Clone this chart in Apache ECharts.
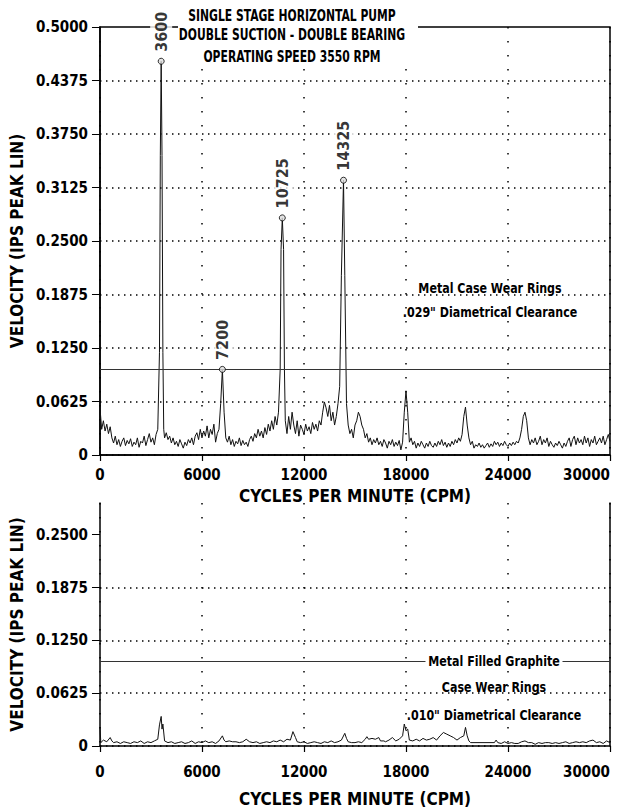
<!DOCTYPE html>
<html><head><meta charset="utf-8">
<script src="https://cdn.jsdelivr.net/npm/echarts@6.0.0/dist/echarts.min.js"></script>
<style>html,body{margin:0;padding:0;background:#fff}#c{width:618px;height:808px}</style>
</head><body><div id="c"></div>
<script>
const titleLines = ['SINGLE STAGE HORIZONTAL PUMP', 'DOUBLE SUCTION - DOUBLE BEARING', 'OPERATING SPEED 3550 RPM'];
const xTicks = [0, 6000, 12000, 18000, 24000, 30000];
const yTicksTop = [0, 0.0625, 0.125, 0.1875, 0.25, 0.3125, 0.375, 0.4375, 0.5];
const yTicksBottom = [0, 0.0625, 0.125, 0.1875, 0.25];
const alarmLevel = 0.1;
const topNotes = ['Metal Case Wear Rings', '.029" Diametrical Clearance'];
const bottomNotes = ['Metal Filled Graphite', 'Case Wear Rings', '.010" Diametrical Clearance'];
const peakCpm = [3600, 7200, 10725, 14325];
const peakVel = [0.46, 0.1, 0.277, 0.321];

const topSpectrum = [[0,0.055],[100,0.03],[200,0.04],[300,0.028],[400,0.036],[500,0.025],[600,0.033],[700,0.02],[800,0.014],[900,0.022],[1000,0.012],[1100,0.018],[1200,0.01],[1300,0.016],[1400,0.02],[1500,0.011],[1600,0.017],[1700,0.013],[1800,0.019],[1900,0.01],[2000,0.015],[2100,0.012],[2200,0.02],[2300,0.009],[2400,0.016],[2500,0.014],[2600,0.022],[2700,0.011],[2800,0.018],[2900,0.025],[3000,0.015],[3100,0.02],[3200,0.012],[3300,0.024],[3400,0.03],[3500,0.12],[3550,0.35],[3600,0.46],[3650,0.35],[3700,0.12],[3750,0.03],[3800,0.02],[3900,0.026],[4000,0.018],[4100,0.022],[4200,0.014],[4300,0.02],[4400,0.012],[4500,0.016],[4600,0.01],[4700,0.018],[4800,0.013],[4900,0.008],[5000,0.015],[5100,0.011],[5200,0.018],[5300,0.014],[5400,0.02],[5500,0.012],[5600,0.022],[5700,0.026],[5800,0.018],[5900,0.03],[6000,0.02],[6100,0.028],[6200,0.022],[6300,0.034],[6400,0.02],[6500,0.03],[6600,0.024],[6700,0.036],[6800,0.015],[6900,0.025],[7000,0.03],[7100,0.06],[7200,0.1],[7300,0.05],[7400,0.02],[7500,0.015],[7600,0.022],[7700,0.012],[7800,0.018],[7900,0.01],[8000,0.016],[8100,0.013],[8200,0.02],[8300,0.011],[8400,0.017],[8500,0.012],[8600,0.015],[8700,0.01],[8800,0.018],[8900,0.022],[9000,0.016],[9100,0.025],[9200,0.02],[9300,0.03],[9400,0.022],[9500,0.028],[9600,0.02],[9700,0.032],[9800,0.024],[9900,0.036],[10000,0.028],[10100,0.04],[10200,0.03],[10300,0.045],[10400,0.035],[10500,0.05],[10600,0.1],[10650,0.24],[10725,0.277],[10800,0.24],[10850,0.1],[10900,0.04],[11000,0.025],[11100,0.045],[11200,0.03],[11300,0.05],[11400,0.035],[11500,0.025],[11600,0.04],[11700,0.022],[11800,0.035],[11900,0.03],[12000,0.024],[12100,0.036],[12200,0.028],[12300,0.033],[12400,0.025],[12500,0.038],[12600,0.03],[12700,0.036],[12800,0.028],[12900,0.04],[13000,0.035],[13100,0.05],[13200,0.062],[13300,0.055],[13400,0.045],[13500,0.058],[13600,0.04],[13700,0.05],[13800,0.035],[13900,0.045],[14000,0.06],[14100,0.08],[14200,0.21],[14325,0.321],[14400,0.21],[14500,0.06],[14600,0.035],[14700,0.025],[14800,0.03],[14900,0.02],[15000,0.035],[15100,0.04],[15200,0.05],[15300,0.045],[15400,0.035],[15500,0.03],[15600,0.02],[15700,0.025],[15800,0.015],[15900,0.02],[16000,0.012],[16100,0.018],[16200,0.014],[16300,0.02],[16400,0.012],[16500,0.016],[16600,0.01],[16700,0.018],[16800,0.014],[16900,0.008],[17000,0.016],[17100,0.012],[17200,0.018],[17300,0.01],[17400,0.015],[17500,0.011],[17600,0.017],[17700,0.006],[17800,0.015],[17900,0.05],[18000,0.075],[18100,0.05],[18200,0.015],[18300,0.02],[18400,0.012],[18500,0.016],[18600,0.008],[18700,0.014],[18800,0.01],[18900,0.016],[19000,0.012],[19100,0.008],[19200,0.014],[19300,0.01],[19400,0.016],[19500,0.011],[19600,0.009],[19700,0.014],[19800,0.01],[19900,0.016],[20000,0.012],[20100,0.018],[20200,0.011],[20300,0.015],[20400,0.009],[20500,0.014],[20600,0.01],[20700,0.016],[20800,0.012],[20900,0.018],[21000,0.014],[21100,0.02],[21200,0.016],[21300,0.024],[21400,0.045],[21500,0.056],[21600,0.035],[21700,0.02],[21800,0.012],[21900,0.016],[22000,0.008],[22100,0.012],[22200,0.01],[22300,0.014],[22400,0.009],[22500,0.012],[22600,0.008],[22700,0.011],[22800,0.014],[22900,0.009],[23000,0.013],[23100,0.01],[23200,0.016],[23300,0.012],[23400,0.015],[23500,0.01],[23600,0.014],[23700,0.011],[23800,0.016],[23900,0.012],[24000,0.01],[24100,0.014],[24200,0.011],[24300,0.015],[24400,0.012],[24500,0.016],[24600,0.014],[24700,0.02],[24800,0.03],[24900,0.045],[25000,0.05],[25100,0.04],[25200,0.02],[25300,0.012],[25400,0.018],[25500,0.014],[25600,0.02],[25700,0.012],[25800,0.016],[25900,0.022],[26000,0.012],[26100,0.018],[26200,0.014],[26300,0.02],[26400,0.01],[26500,0.016],[26600,0.012],[26700,0.009],[26800,0.014],[26900,0.011],[27000,0.016],[27100,0.012],[27200,0.008],[27300,0.014],[27400,0.01],[27500,0.016],[27600,0.02],[27700,0.01],[27800,0.018],[27900,0.022],[28000,0.012],[28100,0.02],[28200,0.014],[28300,0.018],[28400,0.012],[28500,0.022],[28600,0.014],[28700,0.02],[28800,0.01],[28900,0.018],[29000,0.014],[29100,0.022],[29200,0.012],[29300,0.016],[29400,0.02],[29500,0.014],[29600,0.022],[29700,0.012],[29800,0.018],[29900,0.024],[30000,0.016]];

const bottomSpectrum = [[0,0.022],[50,0.004],[200,0.007],[400,0.005],[600,0.01],[700,0.006],[800,0.004],[1000,0.005],[1200,0.003],[1400,0.005],[1600,0.004],[1800,0.003],[2000,0.005],[2200,0.004],[2400,0.006],[2600,0.003],[2800,0.005],[3000,0.004],[3200,0.006],[3400,0.008],[3500,0.025],[3600,0.035],[3650,0.02],[3700,0.026],[3800,0.006],[4000,0.004],[4200,0.005],[4400,0.003],[4600,0.004],[4800,0.005],[5000,0.003],[5200,0.004],[5400,0.006],[5600,0.003],[5800,0.005],[6000,0.004],[6200,0.006],[6400,0.004],[6600,0.005],[6800,0.003],[7000,0.006],[7200,0.012],[7300,0.007],[7400,0.005],[7600,0.006],[7800,0.005],[8000,0.005],[8200,0.004],[8400,0.005],[8600,0.008],[8800,0.005],[9000,0.004],[9200,0.005],[9400,0.003],[9600,0.004],[9800,0.005],[10000,0.004],[10200,0.006],[10400,0.005],[10600,0.007],[10800,0.005],[11000,0.008],[11200,0.007],[11350,0.017],[11500,0.01],[11600,0.005],[11800,0.004],[12000,0.005],[12200,0.003],[12400,0.004],[12600,0.005],[12800,0.004],[13000,0.003],[13200,0.005],[13400,0.004],[13600,0.006],[13800,0.004],[14000,0.005],[14200,0.007],[14400,0.015],[14500,0.009],[14600,0.005],[14800,0.004],[15000,0.004],[15200,0.005],[15400,0.004],[15600,0.008],[15700,0.011],[15800,0.008],[16000,0.009],[16200,0.008],[16400,0.01],[16500,0.006],[16700,0.006],[16800,0.005],[17000,0.007],[17200,0.01],[17400,0.006],[17600,0.008],[17800,0.012],[17900,0.026],[18000,0.018],[18100,0.02],[18200,0.007],[18400,0.006],[18600,0.008],[18800,0.006],[19000,0.009],[19200,0.007],[19400,0.008],[19600,0.01],[19800,0.007],[20000,0.012],[20200,0.016],[20400,0.014],[20600,0.012],[20800,0.01],[21000,0.007],[21200,0.01],[21400,0.012],[21500,0.022],[21600,0.012],[21700,0.006],[21800,0.004],[23200,0.004],[23300,0.007],[23400,0.004],[23600,0.003],[23800,0.005],[24000,0.003],[24200,0.004],[24400,0.003],[24600,0.003],[24800,0.005],[25000,0.006],[25200,0.004],[25400,0.004],[25600,0.002],[25800,0.004],[26000,0.003],[26200,0.004],[26400,0.004],[26600,0.003],[26800,0.004],[27000,0.003],[27200,0.004],[27400,0.005],[27600,0.003],[27800,0.004],[28000,0.005],[28200,0.004],[28400,0.005],[28600,0.004],[28800,0.006],[29000,0.007],[29200,0.004],[29400,0.005],[29600,0.003],[29800,0.006],[30000,0.004]];

const FONT = '"DejaVu Sans Condensed", sans-serif';
const chart = echarts.init(document.getElementById('c'), null, {renderer: 'svg'});

function xAxisCfg(gi, labelMargin, nameGap) {
  return {
    type: 'value', gridIndex: gi, min: 0, max: 30000, interval: 6000,
    axisLine: {show: true, lineStyle: {color: '#000', width: 1.5}},
    axisTick: {show: true, length: 6, inside: false, lineStyle: {color: '#000', width: 1.2}, customValues: xTicks},
    axisLabel: {color: '#000', fontFamily: FONT, fontWeight: 'bold', fontSize: 15, margin: labelMargin, customValues: xTicks,
      alignMaxLabel: 'right', formatter: v => String(v)},
    splitLine: {show: true, lineStyle: {color: '#000', width: 1.5, type: [1.5, 12.5]}},
    name: 'CYCLES PER MINUTE (CPM)', nameLocation: 'middle', nameGap: nameGap,
    nameTextStyle: {color: '#000', fontFamily: FONT, fontWeight: 'bold', fontSize: 17}
  };
}
function yAxisCfg(gi, max, ticks) {
  return {
    type: 'value', gridIndex: gi, min: 0, max: max, interval: 0.0625,
    axisLine: {show: true, lineStyle: {color: '#000', width: 1.5}},
    axisTick: {show: true, length: 8, lineStyle: {color: '#000', width: 1}, customValues: ticks},
    axisLabel: {color: '#000', fontFamily: FONT, fontWeight: 'bold', fontSize: 15, margin: 12, customValues: ticks,
      formatter: v => v === 0 ? '0' : v.toFixed(4)},
    splitLine: {show: true, showMaxLine: false, lineStyle: {color: '#000', width: 1.5, type: [1.5, 4.5]}},
    name: 'VELOCITY (IPS PEAK LIN)', nameLocation: 'middle', nameGap: 72,
    nameTextStyle: {color: '#000', fontFamily: FONT, fontWeight: 'bold', fontSize: 17}
  };
}

const noteStyle = {fill: '#000', font: 'bold 14px ' + FONT, textAlign: 'center', textVerticalAlign: 'middle'};
const titleStyle = {fill: '#000', font: 'bold 15px ' + FONT, textAlign: 'center', textVerticalAlign: 'middle'};
function txt(x, y, text, style, sx, extra) {
  return {type: 'text', x: x, y: y, z: 51, scaleX: sx, style: Object.assign({text: text}, style, extra || {})};
}

chart.setOption({
  animation: false,
  grid: [
    {left: 98, right: 8, top: 27, bottom: 353, show: true, borderColor: '#000', borderWidth: 1.5, backgroundColor: 'transparent'},
    {left: 98, right: 8, top: 503, bottom: 60}
  ],
  xAxis: [xAxisCfg(0, 12, 32), xAxisCfg(1, 18, 44)],
  yAxis: [
    yAxisCfg(0, 0.5, yTicksTop),
    yAxisCfg(1, 0.2875, yTicksBottom),
    {type: 'value', gridIndex: 1, position: 'right', min: 0, max: 0.2875,
      axisLine: {show: true, lineStyle: {color: '#000', width: 1.5}}, axisTick: {show: false}, axisLabel: {show: false}, splitLine: {show: false}}
  ],
  series: [
    {type: 'line', xAxisIndex: 0, yAxisIndex: 0, data: topSpectrum, showSymbol: false, symbol: 'none',
      lineStyle: {color: '#111', width: 1}, z: 3,
      markLine: {silent: true, symbol: 'none', label: {show: false}, lineStyle: {color: '#333', width: 1, type: 'solid'},
        data: [{yAxis: alarmLevel}]}},
    {type: 'scatter', xAxisIndex: 0, yAxisIndex: 0, data: peakCpm.map((c, i) => [c, peakVel[i]]),
      symbol: 'circle', symbolSize: 6, itemStyle: {color: '#ddd', borderColor: '#000', borderWidth: 1}, z: 5,
      label: {show: true, position: 'top', rotate: 90, align: 'left', verticalAlign: 'middle', distance: 1,
        formatter: p => String(peakCpm[p.dataIndex]), color: '#000', fontFamily: FONT, fontWeight: 'bold', fontSize: 16,
        backgroundColor: '#fff', padding: [3, 2, 3, 5]}},
    {type: 'line', xAxisIndex: 1, yAxisIndex: 1, data: bottomSpectrum, showSymbol: false, symbol: 'none',
      lineStyle: {color: '#111', width: 1}, z: 3,
      markLine: {silent: true, symbol: 'none', label: {show: false}, lineStyle: {color: '#333', width: 1, type: 'solid'},
        data: [{yAxis: alarmLevel}]}}
  ],
  graphic: [
    {type: 'rect', shape: {x: 178, y: 0, width: 240, height: 64}, style: {fill: '#fff'}, z: 50},
    txt(292, 15, titleLines[0], titleStyle, 0.8),
    txt(292, 34, titleLines[1], titleStyle, 0.8),
    txt(292, 56, titleLines[2], titleStyle, 0.8),
    txt(490, 288, topNotes[0], noteStyle, 0.88),
    txt(490, 312, topNotes[1], noteStyle, 0.88),
    txt(494, 661, bottomNotes[0], noteStyle, 0.88, {backgroundColor: '#fff', padding: [2, 3]}),
    txt(494, 687, bottomNotes[1], noteStyle, 0.88),
    txt(494, 715, bottomNotes[2], noteStyle, 0.88)
  ]
});
</script></body></html>
